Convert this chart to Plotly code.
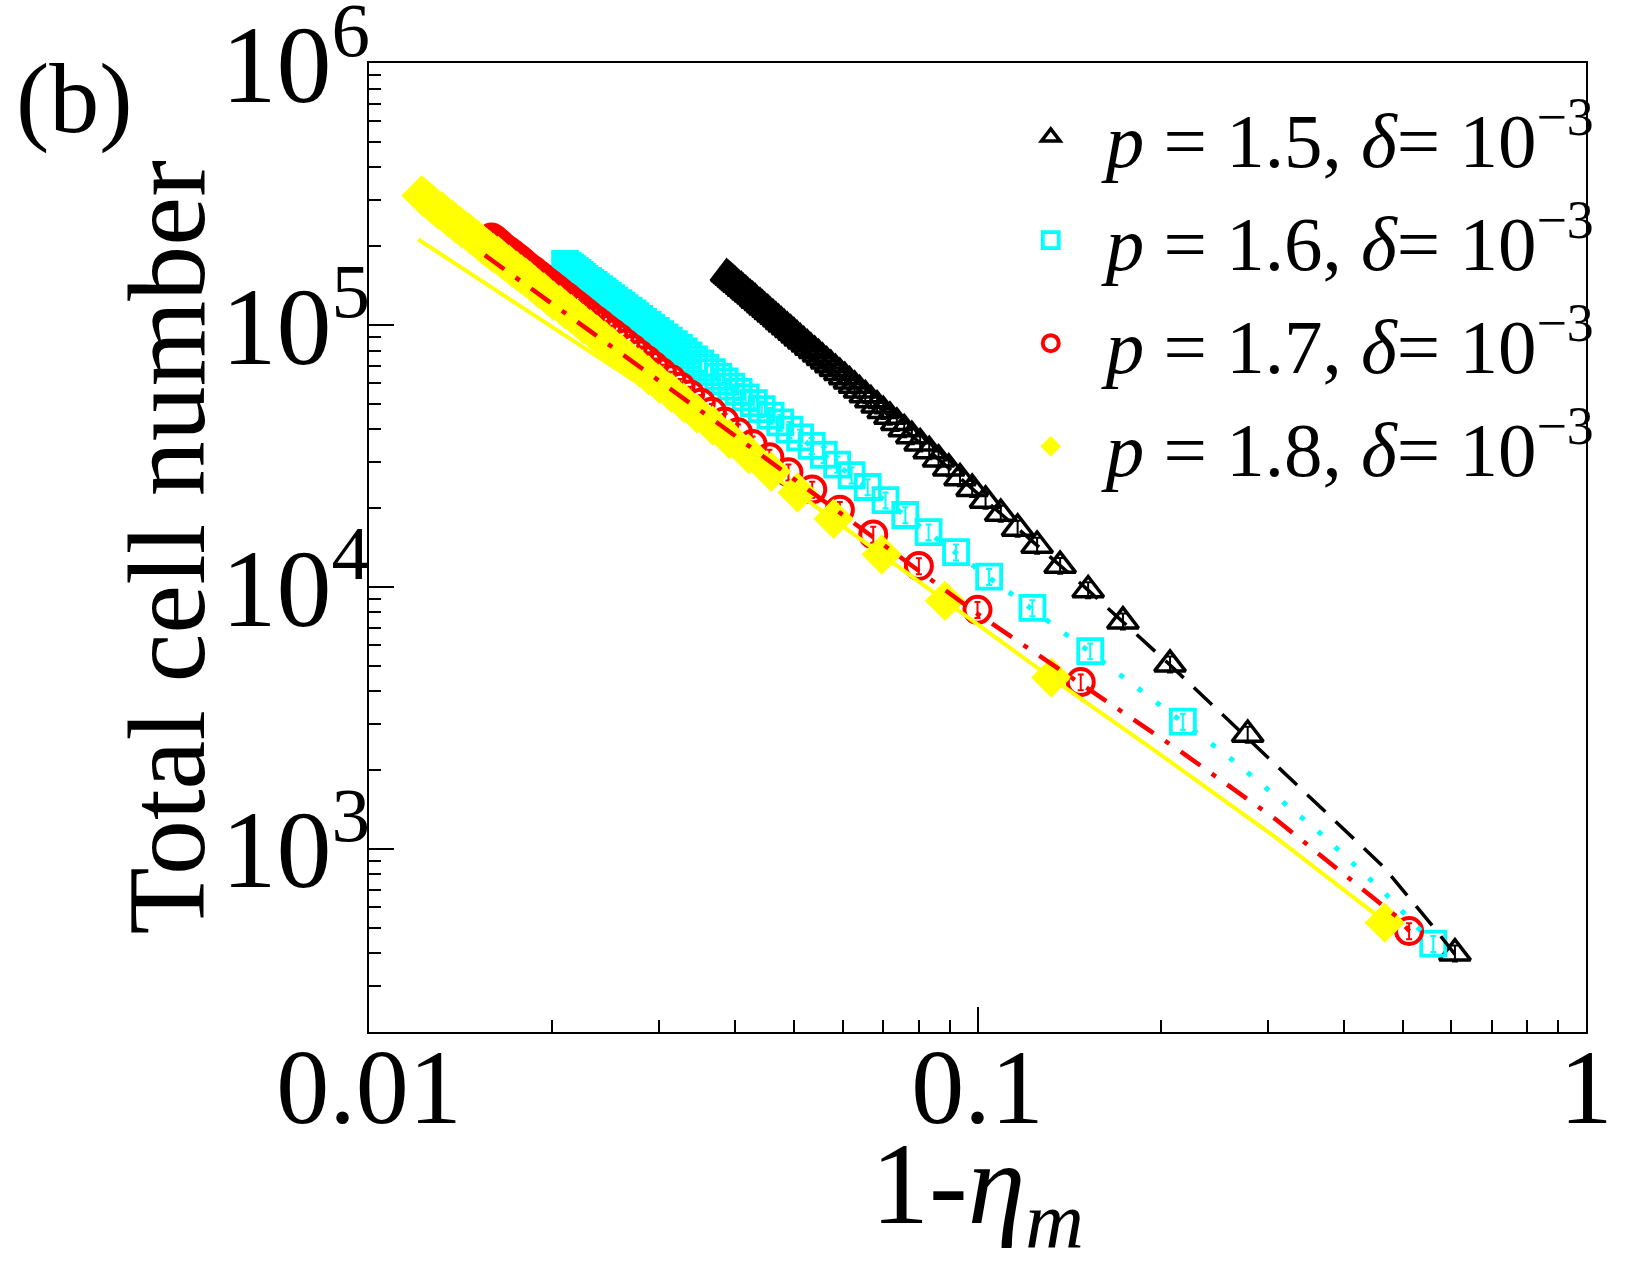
import plotly.graph_objects as go

# ---------------- data ----------------
# p = 1.5 (black triangles)
black_x = [0.609, 0.278, 0.2072, 0.1734, 0.1520, 0.1367, 0.1253, 0.1164, 0.1092, 0.1031,
           0.0980, 0.0936, 0.0897, 0.0863, 0.0833, 0.0805, 0.0780, 0.0758, 0.0737, 0.0718,
           0.0700, 0.0684, 0.0668, 0.0654, 0.0640, 0.0628, 0.0616, 0.0605, 0.0594, 0.0584,
           0.0574, 0.0565, 0.0556, 0.0548, 0.0540, 0.0532, 0.0525, 0.0518, 0.0511, 0.0505,
           0.0499, 0.0493, 0.0487, 0.0481, 0.0476, 0.0471, 0.0466, 0.0461, 0.0456, 0.0452,
           0.0447, 0.0443, 0.0439, 0.0434, 0.0431, 0.0427, 0.0423, 0.0419, 0.0416, 0.0412,
           0.0409, 0.0405, 0.0402, 0.0399, 0.0396, 0.0393, 0.0390, 0.0387]
black_y = [400, 2735, 5070, 7405, 9740, 12075, 14410, 16745, 19080, 21415,
           23750, 26085, 28420, 30755, 33090, 35425, 37760, 40095, 42430, 44765,
           47100, 49435, 51770, 54105, 56440, 58775, 61110, 63445, 65780, 68115,
           70450, 72785, 75120, 77455, 79790, 82125, 84460, 86795, 89130, 91465,
           93800, 96135, 98470, 100805, 103140, 105475, 107810, 110145, 112480, 114815,
           117150, 119485, 121820, 124155, 126490, 128825, 131160, 133495, 135830, 138165,
           140500, 142835, 145170, 147505, 149840, 152175, 154510, 156845]

# p = 1.6 (cyan squares)
cyan_x = [0.561, 0.2175, 0.1532, 0.1231, 0.1045, 0.0922, 0.0831, 0.0761, 0.0706, 0.0660,
          0.0621, 0.0588, 0.0559, 0.0534, 0.0511, 0.0491, 0.0474, 0.0457, 0.0442, 0.0429,
          0.0416, 0.0405, 0.0394, 0.0384, 0.0375, 0.0366, 0.0357, 0.0350, 0.0342, 0.0335,
          0.0329, 0.0323, 0.0317, 0.0311, 0.0306, 0.0301, 0.0296, 0.0291, 0.0287, 0.0282,
          0.0278, 0.0274, 0.0271, 0.0267, 0.0263, 0.0260, 0.0257, 0.0253, 0.0250, 0.0247,
          0.0244, 0.0242, 0.0239, 0.0236, 0.0234, 0.0231, 0.0229, 0.0226, 0.0224, 0.0222,
          0.0220, 0.0218, 0.0216, 0.0214, 0.0212, 0.0210]
cyan_y = [435, 3065, 5695, 8325, 10955, 13585, 16215, 18845, 21475, 24105,
          26735, 29365, 31995, 34625, 37255, 39885, 42515, 45145, 47775, 50405,
          53035, 55665, 58295, 60925, 63555, 66185, 68815, 71445, 74075, 76705,
          79335, 81965, 84595, 87225, 89855, 92485, 95115, 97745, 100375, 103005,
          105635, 108265, 110895, 113525, 116155, 118785, 121415, 124045, 126675, 129305,
          131935, 134565, 137195, 139825, 142455, 145085, 147715, 150345, 152975, 155605,
          158235, 160865, 163495, 166125, 168755, 171385]

# p = 1.7 (red circles)
red_x = [0.512, 0.1478, 0.1000, 0.0801, 0.0674, 0.0594, 0.0535, 0.0489, 0.0455, 0.0427,
         0.0404, 0.0384, 0.0366, 0.0351, 0.0337, 0.0325, 0.0314, 0.0303, 0.0294, 0.0286,
         0.0278, 0.0271, 0.0264, 0.0258, 0.0252, 0.0246, 0.0241, 0.0236, 0.0231, 0.0227,
         0.0223, 0.0219, 0.0215, 0.0212, 0.0208, 0.0205, 0.0202, 0.0199, 0.0196, 0.0193,
         0.0191, 0.0188, 0.0186, 0.0183, 0.0181, 0.0179, 0.0177, 0.0175, 0.0173, 0.0171,
         0.0169, 0.0167, 0.0165, 0.0164, 0.0162, 0.0161, 0.0159]
red_y = [486, 4336, 8186, 12036, 15886, 19736, 23586, 27436, 31286, 35136,
         38986, 42836, 46686, 50536, 54386, 58236, 62086, 65936, 69786, 73636,
         77486, 81336, 85186, 89036, 92886, 96736, 100586, 104436, 108286, 112136,
         115986, 119836, 123686, 127536, 131386, 135236, 139086, 142936, 146786, 150636,
         154486, 158336, 162186, 166036, 169886, 173736, 177586, 181436, 185286, 189136,
         192986, 196836, 200686, 204536, 208386, 212236, 216086]

# p = 1.8 (yellow diamonds)
yellow_x = [0.467, 0.1322, 0.0884, 0.0696, 0.0580, 0.0506, 0.0458, 0.0421, 0.0391, 0.0367,
            0.0346, 0.0329, 0.0314, 0.0300, 0.0288, 0.0278, 0.0268, 0.0259, 0.0251, 0.0244,
            0.0237, 0.0231, 0.0225, 0.0220, 0.0215, 0.0210, 0.0206, 0.0201, 0.0197, 0.0194,
            0.0190, 0.0187, 0.0184, 0.0181, 0.0178, 0.0175, 0.0172, 0.0170, 0.0167, 0.0165,
            0.0163, 0.0160, 0.0158, 0.0156, 0.0154, 0.0152, 0.0151, 0.0149, 0.0147, 0.0146,
            0.0144, 0.0142, 0.0141, 0.0139, 0.0138, 0.0137, 0.0135, 0.0134, 0.0133, 0.0132,
            0.0130, 0.0129, 0.0128, 0.0127, 0.0126, 0.0125, 0.0124, 0.0123, 0.0122]
yellow_y = [523, 4510, 8860, 13310, 18220, 22960, 27560, 32160, 36760, 41360,
            45960, 50560, 55160, 59760, 64360, 68960, 73560, 78160, 82760, 87360,
            91960, 96560, 101160, 105760, 110360, 114960, 119560, 124160, 128760, 133360,
            137960, 142560, 147160, 151760, 156360, 160960, 165560, 170160, 174760, 179360,
            183960, 188560, 193160, 197760, 202360, 206960, 211560, 216160, 220760, 225360,
            229960, 234560, 239160, 243760, 248360, 252960, 257560, 262160, 266760, 271360,
            275960, 280560, 285160, 289760, 294360, 298960, 303560, 308160, 312760]

# fitted curves
black_fit_x = [0.0387, 0.0700, 0.1092, 0.1507, 0.2072, 0.2912, 0.4645, 0.561, 0.609]
black_fit_y = [156845, 47100, 19080, 9910, 5040, 2388, 856, 505, 396]
cyan_fit_x = [0.0210, 0.0416, 0.0761, 0.1045, 0.1532, 0.2584, 0.3608, 0.4645, 0.561]
cyan_fit_y = [171385, 53035, 18845, 10955, 5634, 2251, 1182, 687, 435]
red_fit_x = [0.0155, 0.0373, 0.1000, 0.2179, 0.3102, 0.4887, 0.5125]
red_fit_y = [185000, 42500, 7900, 2318, 1290, 551, 486]
yellow_fit_x = [0.01205, 0.037, 0.1322, 0.202, 0.3102, 0.4674]
yellow_fit_y = [212400, 38700, 4500, 2250, 1100, 528]

legend_names = ["<i>p</i> = 1.5, <i>δ</i>= 10<sup>−3</sup>",
                "<i>p</i> = 1.6, <i>δ</i>= 10<sup>−3</sup>",
                "<i>p</i> = 1.7, <i>δ</i>= 10<sup>−3</sup>",
                "<i>p</i> = 1.8, <i>δ</i>= 10<sup>−3</sup>"]
x_tick_vals = [0.01, 0.1, 1]
x_tick_text = ["0.01", "0.1", "1"]
y_tick_vals = [1e3, 1e4, 1e5, 1e6]
y_tick_text = ["10<sup>3</sup>", "10<sup>4</sup>", "10<sup>5</sup>", "10<sup>6</sup>"]

for a, b in [(black_x, black_y), (cyan_x, cyan_y), (red_x, red_y), (yellow_x, yellow_y)]:
    assert len(a) == len(b)

FONT = "Liberation Serif"
fig = go.Figure()


def err(color):
    return dict(type="percent", value=7, thickness=2, width=3, color=color)


fig.add_trace(go.Scatter(x=black_x, y=black_y, mode="markers", name=legend_names[0],
                         error_y=err("black"),
                         marker=dict(symbol="triangle-up-open", size=27, color="black",
                                     line=dict(width=3.5, color="black"))))
fig.add_trace(go.Scatter(x=cyan_x, y=cyan_y, mode="markers", name=legend_names[1],
                         error_y=err("#00FFFF"),
                         marker=dict(symbol="square-open", size=24, color="#00FFFF",
                                     line=dict(width=3.8, color="#00FFFF"))))
fig.add_trace(go.Scatter(x=red_x, y=red_y, mode="markers", name=legend_names[2],
                         error_y=err("#FF0000"),
                         marker=dict(symbol="circle-open", size=26, color="#FF0000",
                                     line=dict(width=4, color="#FF0000"))))
fig.add_trace(go.Scatter(x=yellow_x, y=yellow_y, mode="markers", name=legend_names[3],
                         marker=dict(symbol="diamond", size=31, color="#FFFF00",
                                     line=dict(width=0))))

fig.add_trace(go.Scatter(x=black_fit_x, y=black_fit_y, mode="lines", showlegend=False,
                         line=dict(color="black", width=3.5, dash="25px,14px")))
fig.add_trace(go.Scatter(x=cyan_fit_x, y=cyan_fit_y, mode="lines", showlegend=False,
                         line=dict(color="#00FFFF", width=5, dash="5px,18px")))
fig.add_trace(go.Scatter(x=red_fit_x, y=red_fit_y, mode="lines", showlegend=False,
                         line=dict(color="#FF0000", width=4.5, dash="24px,14px,5px,14px")))
fig.add_trace(go.Scatter(x=yellow_fit_x, y=yellow_fit_y, mode="lines", showlegend=False,
                         line=dict(color="#FFFF00", width=4)))

x_minor = [m * 10.0 ** e for e in (-2, -1) for m in range(2, 10)]
y_minor = [m * 10.0 ** e for e in (2, 3, 4, 5) for m in range(2, 10) if m * 10.0 ** e >= 200]

axis_common = dict(showline=True, linecolor="black", linewidth=2, mirror=True,
                   ticks="inside", ticklen=25, tickwidth=2, tickcolor="black",
                   showgrid=False, zeroline=False, ticklabeloverflow="allow")

fig.update_xaxes(type="log", range=[-2, 0], tickmode="array",
                 tickvals=x_tick_vals, ticktext=x_tick_text,
                 tickfont=dict(family=FONT, size=106, color="black"),
                 ticklabelstandoff=-38,
                 minor=dict(ticks="inside", ticklen=12, tickwidth=2, tickcolor="black",
                            tickmode="array", tickvals=x_minor, showgrid=False),
                 **axis_common)
fig.update_yaxes(type="log", range=[2.30103, 6.001], tickmode="array",
                 tickvals=y_tick_vals, ticktext=y_tick_text,
                 tickfont=dict(family=FONT, size=110, color="black"),
                 ticklabelstandoff=-25,
                 minor=dict(ticks="inside", ticklen=12, tickwidth=2, tickcolor="black",
                            tickmode="array", tickvals=y_minor, showgrid=False),
                 **axis_common)

fig.add_annotation(text="1-<i>η</i><sub><i>m</i></sub>", xref="paper", yref="paper",
                   x=0.5, y=-0.089, xanchor="center", yanchor="top", showarrow=False,
                   font=dict(family=FONT, size=116, color="black"))

fig.add_annotation(text="Total cell number", xref="paper", yref="paper",
                   x=-0.166, y=0.5, xanchor="center", yanchor="middle",
                   textangle=-90, showarrow=False,
                   font=dict(family=FONT, size=110, color="black"))

fig.add_annotation(text="(b)", xref="paper", yref="paper", x=-0.292, y=0.963,
                   xanchor="left", yanchor="middle", showarrow=False,
                   font=dict(family=FONT, size=100, color="black"))

fig.update_layout(
    width=1650, height=1275,
    margin=dict(l=369, r=64, t=63, b=243, autoexpand=False),
    paper_bgcolor="white", plot_bgcolor="white",
    showlegend=True,
    legend=dict(x=0.515, y=0.982, xanchor="left", yanchor="top",
                bgcolor="rgba(0,0,0,0)", borderwidth=0, itemwidth=100,
                font=dict(family=FONT, size=77, color="black"),
                tracegroupgap=0),
)

fig.write_html("out.html")
